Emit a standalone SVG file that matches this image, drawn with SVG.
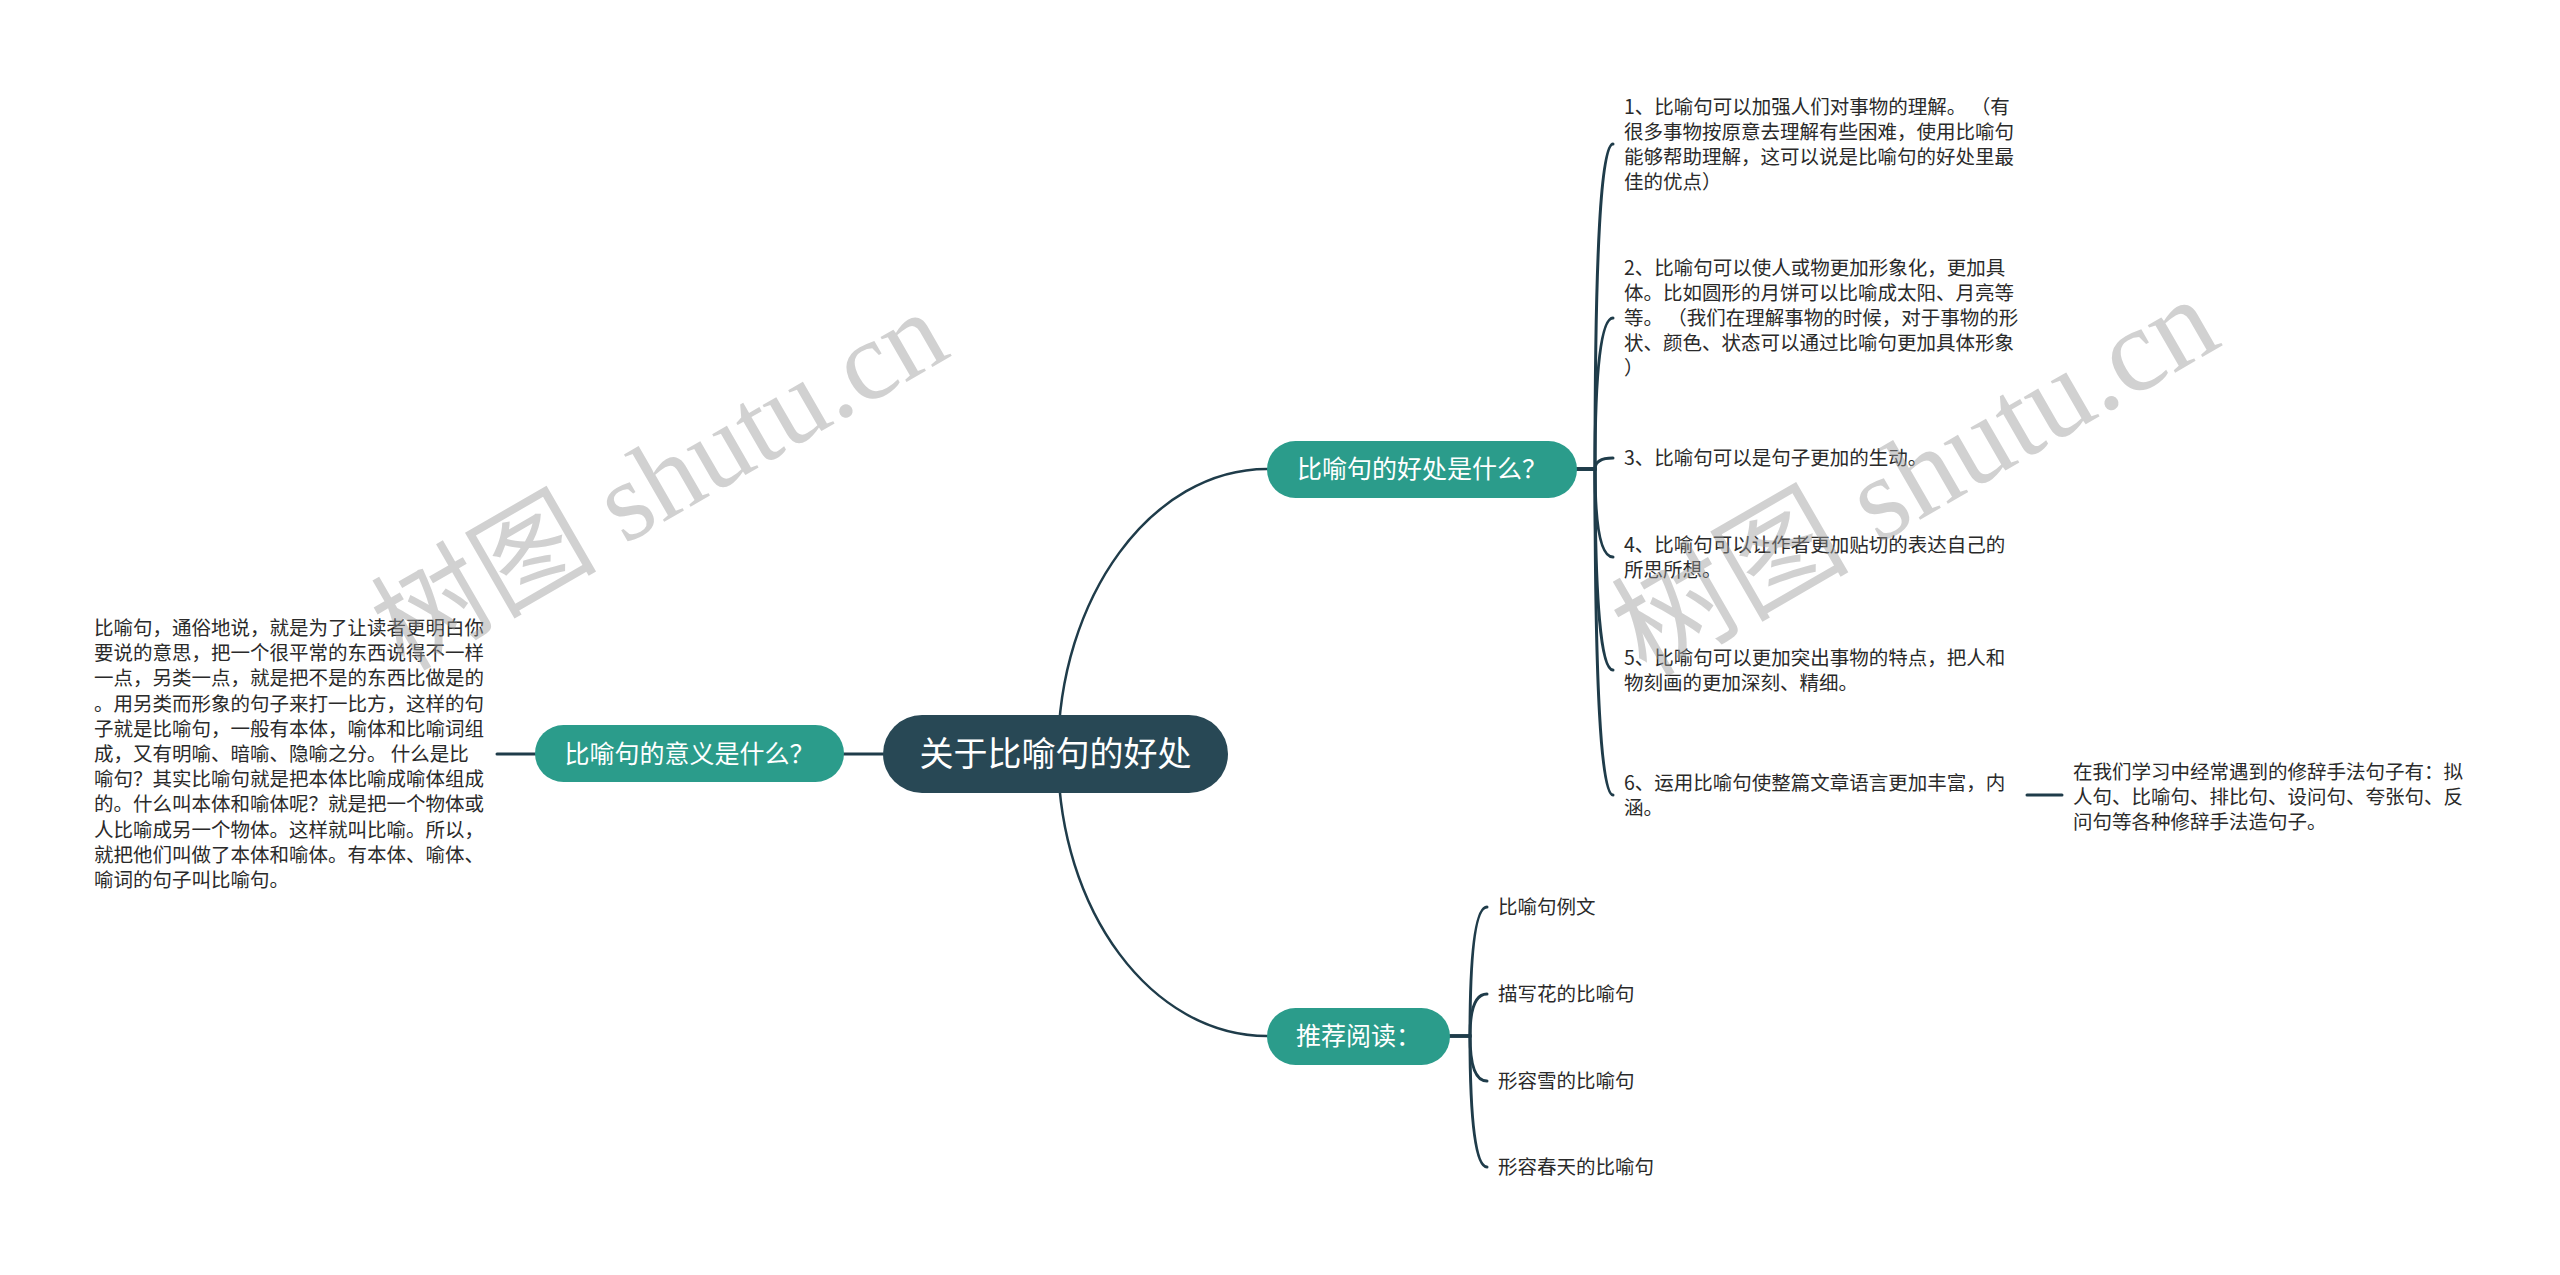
<svg xmlns="http://www.w3.org/2000/svg" width="2560" height="1275" viewBox="0 0 2560 1275">
<style>
.conn{fill:none;stroke:#1f3c4a;stroke-width:3;stroke-linecap:round}
.thin{stroke-width:2.5}
.root{fill:#284855}
.pill{fill:#2b9c8b}
.rt{font-family:"Noto Sans CJK SC","Noto Sans",sans-serif;font-size:34px;fill:#ffffff}
.pt{font-family:"Noto Sans CJK SC","Noto Sans",sans-serif;font-size:25px;fill:#ffffff}
.tx{font-family:"Noto Sans CJK SC","Noto Sans",sans-serif;font-size:19.5px;fill:#2a2a2a}
.wm{font-family:"Liberation Serif","Noto Sans CJK SC",serif;fill:#9a9a9a;opacity:0.45}
</style>
<rect x="0" y="0" width="2560" height="1275" fill="#ffffff"/>
<g id="connectors">
<path class="conn" d="M497 754 H535"/>
<path class="conn" d="M844 754 H883"/>
<path class="conn thin" d="M1058 754 C1058 597 1152 469 1267 469"/>
<path class="conn thin" d="M1058 754 C1058 911 1152 1036 1267 1036"/>
<path class="conn" d="M1577 469 H1595 Q1595 144 1613 144"/>
<path class="conn" d="M1577 469 H1595 Q1595 318 1613 318"/>
<path class="conn" d="M1577 469 H1595 Q1595 458 1613 458"/>
<path class="conn" d="M1577 469 H1595 Q1595 557 1613 557"/>
<path class="conn" d="M1577 469 H1595 Q1595 670 1613 670"/>
<path class="conn" d="M1577 469 H1595 Q1595 795 1613 795"/>
<path class="conn" d="M2027 795 H2062"/>
<path class="conn" d="M1450 1036 H1470 Q1470 907 1487 907"/>
<path class="conn" d="M1450 1036 H1470 Q1470 994 1487 994"/>
<path class="conn" d="M1450 1036 H1470 Q1470 1081 1487 1081"/>
<path class="conn" d="M1450 1036 H1470 Q1470 1167 1487 1167"/>
</g>
<g id="root">
<rect class="root" x="883" y="715" width="345" height="78" rx="39"/>
<text class="rt" x="1055.5" y="766" text-anchor="middle">关于比喻句的好处</text>
</g>
<g id="meaning">
<rect class="pill" x="535" y="725" width="309" height="57" rx="28.5"/>
<text class="pt" x="689.5" y="763" text-anchor="middle">比喻句的意义是什么？</text>
</g>
<g id="meaning-text">
<text class="tx" x="94" y="635">比喻句，通俗地说，就是为了让读者更明白你</text>
<text class="tx" x="94" y="660.2">要说的意思，把一个很平常的东西说得不一样</text>
<text class="tx" x="94" y="685.4">一点，另类一点，就是把不是的东西比做是的</text>
<text class="tx" x="94" y="710.6">。用另类而形象的句子来打一比方，这样的句</text>
<text class="tx" x="94" y="735.8">子就是比喻句，一般有本体，喻体和比喻词组</text>
<text class="tx" x="94" y="761">成，又有明喻、暗喻、隐喻之分。 什么是比</text>
<text class="tx" x="94" y="786.2">喻句？其实比喻句就是把本体比喻成喻体组成</text>
<text class="tx" x="94" y="811.4">的。什么叫本体和喻体呢？就是把一个物体或</text>
<text class="tx" x="94" y="836.6">人比喻成另一个物体。这样就叫比喻。所以，</text>
<text class="tx" x="94" y="861.8">就把他们叫做了本体和喻体。有本体、喻体、</text>
<text class="tx" x="94" y="887">喻词的句子叫比喻句。</text>
</g>
<g id="benefits">
<rect class="pill" x="1267" y="441" width="310" height="57" rx="28.5"/>
<text class="pt" x="1422" y="478" text-anchor="middle">比喻句的好处是什么？</text>
</g>
<g id="benefit-1">
<text class="tx" x="1624" y="114" xml:space="preserve">1、比喻句可以加强人们对事物的理解。 （有</text>
<text class="tx" x="1624" y="139">很多事物按原意去理解有些困难，使用比喻句</text>
<text class="tx" x="1624" y="164">能够帮助理解，这可以说是比喻句的好处里最</text>
<text class="tx" x="1624" y="189">佳的优点）</text>
</g>
<g id="benefit-2">
<text class="tx" x="1624" y="275">2、比喻句可以使人或物更加形象化，更加具</text>
<text class="tx" x="1624" y="300">体。比如圆形的月饼可以比喻成太阳、月亮等</text>
<text class="tx" x="1624" y="325" xml:space="preserve">等。 （我们在理解事物的时候，对于事物的形</text>
<text class="tx" x="1624" y="350">状、颜色、状态可以通过比喻句更加具体形象</text>
<text class="tx" x="1624" y="375">）</text>
</g>
<g id="benefit-3">
<text class="tx" x="1624" y="465">3、比喻句可以是句子更加的生动。</text>
</g>
<g id="benefit-4">
<text class="tx" x="1624" y="552">4、比喻句可以让作者更加贴切的表达自己的</text>
<text class="tx" x="1624" y="577">所思所想。</text>
</g>
<g id="benefit-5">
<text class="tx" x="1624" y="665">5、比喻句可以更加突出事物的特点，把人和</text>
<text class="tx" x="1624" y="690">物刻画的更加深刻、精细。</text>
</g>
<g id="benefit-6">
<text class="tx" x="1624" y="790">6、运用比喻句使整篇文章语言更加丰富，内</text>
<text class="tx" x="1624" y="815">涵。</text>
</g>
<g id="benefit-6-note">
<text class="tx" x="2073" y="779">在我们学习中经常遇到的修辞手法句子有：拟</text>
<text class="tx" x="2073" y="804">人句、比喻句、排比句、设问句、夸张句、反</text>
<text class="tx" x="2073" y="829">问句等各种修辞手法造句子。</text>
</g>
<g id="reading">
<rect class="pill" x="1267" y="1008" width="183" height="57" rx="28.5"/>
<text class="pt" x="1358.5" y="1045" text-anchor="middle">推荐阅读：</text>
</g>
<g id="reading-1"><text class="tx" x="1498" y="914">比喻句例文</text></g>
<g id="reading-2"><text class="tx" x="1498" y="1001">描写花的比喻句</text></g>
<g id="reading-3"><text class="tx" x="1498" y="1088">形容雪的比喻句</text></g>
<g id="reading-4"><text class="tx" x="1498" y="1174">形容春天的比喻句</text></g>
<g id="watermark">
<text class="wm" font-size="113" transform="translate(404 672) rotate(-30)">树图 shutu.cn</text>
<text class="wm" font-size="119" transform="translate(1646 678) rotate(-30)">树图 shutu.cn</text>
</g>
</svg>
